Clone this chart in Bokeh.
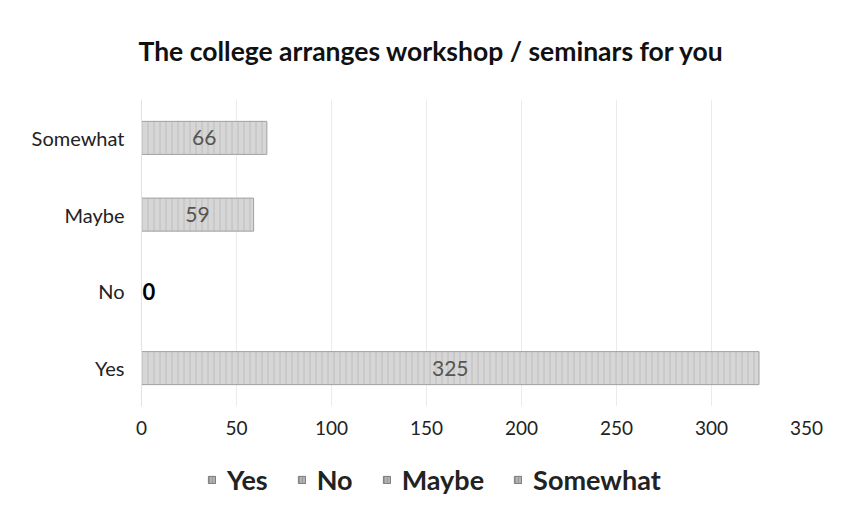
from bokeh.plotting import figure
from bokeh.layouts import column
from bokeh.models import ColumnDataSource, FactorRange, Range1d, Legend, LegendItem, FixedTicker, LabelSet
from bokeh.embed import file_html
from bokeh.resources import INLINE
from bokeh.core.properties import value

title_text = "The college arranges workshop / seminars for you"
categories = ["Yes", "No", "Maybe", "Somewhat"]
values = [325, 0, 59, 66]
x_ticks = [0, 50, 100, 150, 200, 250, 300, 350]

FONT = "Lato"
BAR_STYLE = dict(fill_color="#d6d6d6", line_color="#a0a0a0", line_width=1,
                 hatch_pattern="vertical_line", hatch_color="#b4b4b4", hatch_alpha=0.7,
                 hatch_scale=6, hatch_weight=1)
LEGEND_GLYPH_STYLE = dict(fill_color="#b2b2b2", line_color="#7a7a7a", line_width=1,
                          hatch_pattern="vertical_line", hatch_color="#909090", hatch_alpha=0.7,
                          hatch_scale=3, hatch_weight=1)

# ---------------- main chart ----------------
p = figure(width=826, height=458, output_backend="svg", toolbar_location=None,
           y_range=FactorRange(*categories), x_range=Range1d(0, 350),
           min_border_left=141, min_border_right=20, min_border_top=99, min_border_bottom=52)

p.title.text = title_text
p.title.text_font = FONT
p.title.text_font_size = "26.5px"
p.title.text_font_style = "bold"
p.title.text_color = "#111111"
p.title.align = "left"
p.title.offset = -3
p.title.standoff = 65

for cat, v in zip(categories, values):
    src = ColumnDataSource(dict(y=[cat], right=[v], label=[str(v)], xc=[v / 2]))
    p.hbar(y="y", right="right", left=0, height=0.43, source=src, **BAR_STYLE)
    if v > 0:
        lbl = LabelSet(x="xc", y="y", text="label", source=src, text_align="center",
                       text_baseline="middle", text_font=value(FONT), text_font_size="21px",
                       text_color="#555555")
    else:
        lbl = LabelSet(x="xc", y="y", text="label", source=src, text_align="left",
                       text_baseline="middle", text_font=value(FONT), text_font_size="22px",
                       text_font_style="bold", text_color="#000000", x_offset=1)
    p.add_layout(lbl)

p.xaxis.ticker = FixedTicker(ticks=x_ticks)
p.xaxis.axis_line_color = None
p.xaxis.major_tick_line_color = None
p.xaxis.minor_tick_line_color = None
p.xaxis.major_label_text_font = FONT
p.xaxis.major_label_text_font_size = "19px"
p.xaxis.major_label_text_color = "#222222"
p.xaxis.major_label_standoff = 8

p.yaxis.axis_line_color = "#e2e2e2"
p.yaxis.major_tick_line_color = None
p.yaxis.minor_tick_line_color = None
p.yaxis.major_label_text_font = FONT
p.yaxis.major_label_text_font_size = "20px"
p.yaxis.major_label_text_color = "#222222"
p.yaxis.major_label_standoff = 11

p.xgrid.grid_line_color = "#ebebeb"
p.ygrid.grid_line_color = None
p.outline_line_color = None

# ---------------- legend strip ----------------
lg = figure(width=826, height=50, output_backend="svg", toolbar_location=None,
            x_axis_location=None, y_axis_location=None,
            min_border=0, min_border_left=0, min_border_right=0, min_border_top=0, min_border_bottom=0,
            x_range=Range1d(0, 1), y_range=Range1d(0, 1))
lg.grid.visible = False
lg.outline_line_color = None

leg_renderers = []
for cat in categories:
    # legend-only renderers: their single bar lies outside the visible ranges
    r = lg.hbar(y=[-50], right=[-50], left=-51, height=0.4, **LEGEND_GLYPH_STYLE)
    leg_renderers.append(r)

legend = Legend(items=[LegendItem(label=c, renderers=[r]) for c, r in zip(categories, leg_renderers)],
                orientation="horizontal", location=(66, 12),
                label_text_font=FONT, label_text_font_size="27px", label_text_font_style="bold",
                label_text_color="#222222", glyph_width=9, glyph_height=9, spacing=29,
                label_standoff=11, border_line_color=None, background_fill_alpha=0,
                padding=0, margin=0)
lg.add_layout(legend)

layout = column(p, lg, spacing=0)
open("out.html", "w").write(file_html(layout, INLINE))
